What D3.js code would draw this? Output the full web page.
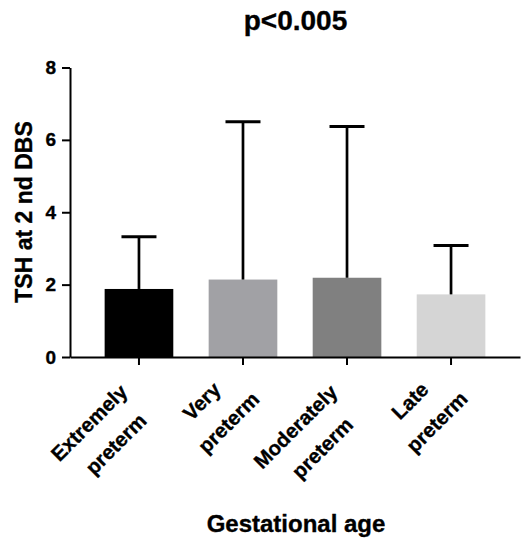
<!DOCTYPE html>
<html>
<head>
<meta charset="utf-8">
<script src="https://cdn.jsdelivr.net/npm/d3@7"></script>
<style>
  html, body { margin: 0; padding: 0; background: #ffffff; }
  svg { display: block; }
  text { font-family: Arial, "Liberation Sans", Helvetica, sans-serif; font-weight: bold; fill: #000; stroke: #000; stroke-width: 0.35px; }
</style>
</head>
<body>
<script>
const categories = ["Extremely preterm", "Very preterm", "Moderately preterm", "Late preterm"];
const labelLines = [["Extremely", "preterm"], ["Very", "preterm"], ["Moderately", "preterm"], ["Late", "preterm"]];
const means = [1.88, 2.14, 2.19, 1.73];
const upperSD = [3.32, 6.50, 6.37, 3.08];
const yTicks = [0, 2, 4, 6, 8];
const barColors = ["#000000", "#a1a1a5", "#808080", "#d5d5d5"];
const titleText = "p<0.005";
const xTitle = "Gestational age";
const yTitle = "TSH at 2 nd DBS";

const W = 521, H = 542;
const svg = d3.select("body").append("svg").attr("width", W).attr("height", H);

const x = d3.scaleBand().domain(categories).range([70, 520]).paddingInner(0.34).paddingOuter(0.333);
const y = d3.scaleLinear().domain([0, 8]).range([357, 67.5]);

// bars
svg.append("g").selectAll("rect").data(categories).join("rect")
  .attr("x", d => x(d))
  .attr("y", (d, i) => y(means[i]))
  .attr("width", x.bandwidth())
  .attr("height", (d, i) => y(0) - y(means[i]))
  .attr("fill", (d, i) => barColors[i]);

// error bars (upper only)
const eg = svg.append("g");
categories.forEach((c, i) => {
  const cx = x(c) + x.bandwidth() / 2;
  eg.append("line").attr("x1", cx).attr("x2", cx)
    .attr("y1", y(means[i])).attr("y2", y(upperSD[i]))
    .attr("stroke", "#000").attr("stroke-width", 2.7);
  eg.append("line").attr("x1", cx - 17.5).attr("x2", cx + 17.5)
    .attr("y1", y(upperSD[i])).attr("y2", y(upperSD[i]))
    .attr("stroke", "#000").attr("stroke-width", 3);
});

// y axis
const yAxis = svg.append("g").attr("transform", "translate(70,0)")
  .call(d3.axisLeft(y).tickValues(yTicks).tickSize(8).tickSizeOuter(0).tickPadding(6));
yAxis.attr("font-size", null).attr("font-family", null);
yAxis.select(".domain").attr("stroke", "#000").attr("stroke-width", 2);
yAxis.selectAll(".tick line").attr("stroke", "#000").attr("stroke-width", 2);
yAxis.selectAll(".tick text").style("font-size", "19px");

// x axis
const xAxis = svg.append("g").attr("transform", "translate(0,357)")
  .call(d3.axisBottom(x).tickSize(8).tickSizeOuter(0).tickFormat(""));
xAxis.attr("font-size", null).attr("font-family", null);
xAxis.select(".domain").attr("stroke", "#000").attr("stroke-width", 2);
xAxis.selectAll(".tick line").attr("stroke", "#000").attr("stroke-width", 2);

// rotated two-line tick labels
categories.forEach((c, i) => {
  const cx = x(c) + x.bandwidth() / 2;
  const g = svg.append("g").attr("transform", `translate(${cx},357) rotate(-45)`);
  const t1 = g.append("text").attr("text-anchor", "middle").style("font-size", "20.5px").text(labelLines[i][0]);
  const w1 = t1.node().getComputedTextLength();
  const cu = -60 - 0.39 * (w1 - 42);
  const v1 = 9 + 0.166 * (w1 - 42);
  t1.attr("x", cu).attr("y", v1);
  g.append("text").attr("text-anchor", "middle").style("font-size", "20.5px")
    .attr("x", cu + 4).attr("y", v1 + 34).text(labelLines[i][1]);
});

// titles
svg.append("text").attr("x", 295.5).attr("y", 30).attr("text-anchor", "middle")
  .style("font-size", "28px").text(titleText);
svg.append("text").attr("x", 296).attr("y", 531.5).attr("text-anchor", "middle")
  .style("font-size", "24px").text(xTitle);
svg.append("text").attr("transform", "translate(31.5,212) rotate(-90)").attr("text-anchor", "middle")
  .style("font-size", "23px").text(yTitle);
</script>
</body>
</html>
